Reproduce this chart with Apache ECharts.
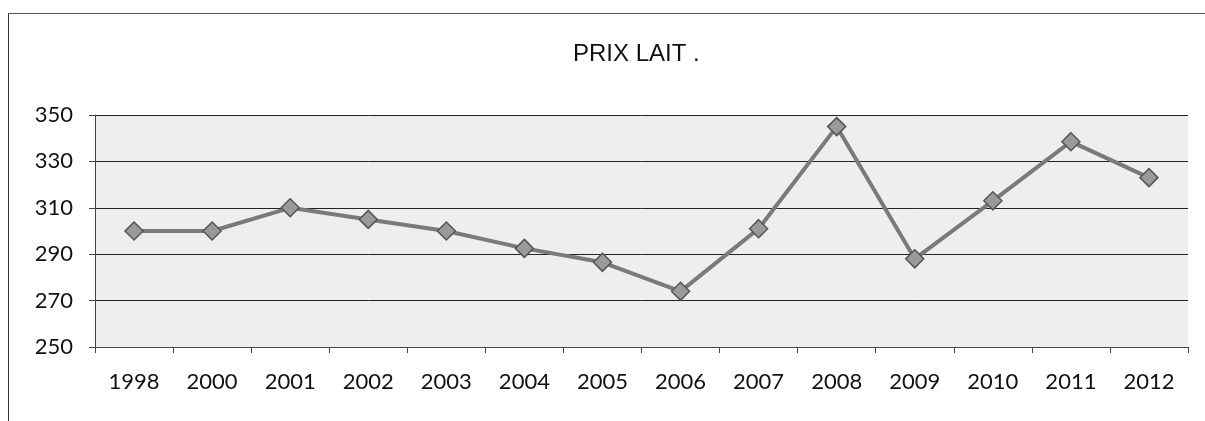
<!DOCTYPE html>
<html>
<head>
<meta charset="utf-8">
<script src="https://cdn.jsdelivr.net/npm/echarts@6/dist/echarts.min.js"></script>
<style>
  html, body { margin: 0; padding: 0; background: #fff; }
  #frame { position: absolute; left: 8px; top: 13px; width: 1197px; height: 408px;
           border-left: 1px solid #333; border-top: 1px solid #555; }
  #chart { position: absolute; left: 0; top: 0; width: 1205px; height: 421px; }
</style>
</head>
<body>
<div id="frame"></div>
<div id="chart"></div>
<script>
  // données
  var years = ['1998', '2000', '2001', '2002', '2003', '2004', '2005', '2006', '2007', '2008', '2009', '2010', '2011', '2012']
  var prix = [300, 300, 310, 305, 300, 292.5, 286.5, 274, 301, 345, 288, 313, 338.5, 323]

  var chart = echarts.init(document.getElementById('chart'))

  chart.setOption({
    title: {
      text: 'PRIX LAIT .',
      left: 568,
      top: 37,
      textStyle: { fontFamily: 'Liberation Sans', fontSize: 24, fontWeight: 'normal', color: '#111' }
    },
    grid: { left: 95, right: 17, top: 115, bottom: 74 },
    xAxis: {
      type: 'category',
      data: years,
      boundaryGap: true,
      axisLine: { lineStyle: { color: '#444', width: 1 } },
      axisTick: { show: true, length: 6, lineStyle: { color: '#444' } },
      axisLabel: { fontFamily: 'Lato', fontSize: 22, color: '#111', margin: 24 }
    },
    yAxis: {
      type: 'value',
      min: 250,
      max: 350,
      interval: 20,
      axisLine: { show: true, lineStyle: { color: '#444' } },
      axisTick: { show: true, length: 6, lineStyle: { color: '#444' } },
      axisLabel: { fontFamily: 'Lato', fontSize: 22, color: '#111', margin: 22 },
      splitLine: { lineStyle: { color: '#222', width: 1 } },
      splitArea: { show: true, areaStyle: { color: ['#eeeeee', '#eeeeee'] } }
    },
    series: [{
      name: 'Prix lait',
      type: 'line',
      data: prix,
      symbol: 'diamond',
      symbolSize: 18,
      lineStyle: { color: '#7a7a7a', width: 4 },
      itemStyle: { color: '#9a9a9a', borderColor: '#555', borderWidth: 1.5 },
      animation: false
    }]
  })
</script>
</body>
</html>
